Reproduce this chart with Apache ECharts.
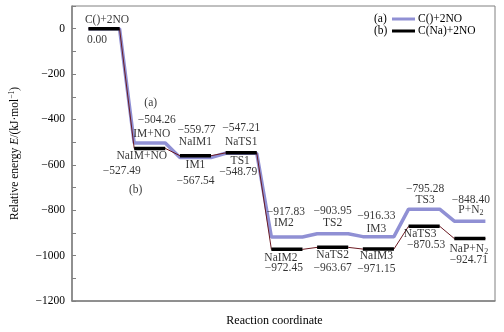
<!DOCTYPE html>
<html>
<head>
<meta charset="utf-8">
<script src="https://cdn.jsdelivr.net/npm/echarts@6/dist/echarts.min.js"></script>
<style>
  html, body { margin: 0; padding: 0; background: #fff; }
  #chart { width: 504px; height: 332px; }
</style>
</head>
<body>
<div id="chart"></div>
<script>
// series names
const seriesNames = ['C()+2NO', 'C(Na)+2NO'];
const seriesTags = ['(a)', '(b)'];

// states and relative energies (kJ/mol)
const statesA = ['C()+2NO', 'IM+NO', 'IM1', 'TS1', 'IM2', 'TS2', 'IM3', 'TS3', 'P+N2'];
const energyA = [0.00, -504.26, -567.54, -548.79, -917.83, -903.95, -916.33, -795.28, -848.40];
const statesB = ['', 'NaIM+NO', 'NaIM1', 'NaTS1', 'NaIM2', 'NaTS2', 'NaIM3', 'NaTS3', 'NaP+N2'];
const energyB = [0.00, -527.49, -559.77, -547.21, -972.45, -963.67, -971.15, -870.53, -924.71];

// y axis
const yMin = -1200;
const yMax = 100;
const yStep = 100;

// label offsets in px (style only)
const offNameA = [[3, -9], [2, -9], [0, 8], [-1, 8], [-3, -14], [0, -11], [-2, -8], [1, -9], [1, -11]];
const offValA = [[-7, 11], [7, -23], [0, 24], [-3, 19], [-1, -25], [0, -23], [-2, -21], [1, -20], [1, -21]];
const offNameB = [null, [-8, 8], [0, -14], [0, -11], [-6, 9], [0, 8], [-2, 7], [-4, 8], [-1, 10]];
const offValB = [null, [-28, 23], [1, -26], [0, -25], [-3, 19], [0, 21], [-2, 20], [2, 19], [-1, 21]];
const offTag = [[1, -40], [-14, 42]];

const FONT = 'Liberation Serif';
const HALF = 0.34;
const COLOR_A = '#9090d4';

const fmtVal = (v) => v.toFixed(2).replace('-', '\u2212');
const fmtName = (s) => s.replace(/N2$/, 'N{sub|2}');

// full path with connectors
function pathOf(energy) {
  const pts = [];
  energy.forEach((e, i) => {
    pts.push([i - HALF, e], [i + HALF, e]);
  });
  return pts;
}

// levels only, broken between states
function levelsOf(energy) {
  const pts = [];
  energy.forEach((e, i) => {
    pts.push([i - HALF, e], [i + HALF, e], [i, null]);
  });
  return pts;
}

const labelData = [];
function addLabel(x, y, text, off) {
  if (!off || text === '') return;
  labelData.push({ value: [x, y], label: { formatter: text, offset: off } });
}
statesA.forEach((s, i) => {
  addLabel(i, energyA[i], fmtName(s), offNameA[i]);
  addLabel(i, energyA[i], fmtVal(energyA[i]), offValA[i]);
});
statesB.forEach((s, i) => {
  addLabel(i, energyB[i], fmtName(s), offNameB[i]);
  addLabel(i, energyB[i], fmtVal(energyB[i]), offValB[i]);
});
addLabel(1, energyA[1], seriesTags[0], offTag[0]);
addLabel(1, energyB[1], seriesTags[1], offTag[1]);

const chart = echarts.init(document.getElementById('chart'));

const option = {
  animation: false,
  textStyle: { fontFamily: FONT },
  grid: {
    left: 61,
    right: 9,
    top: 6,
    bottom: 29,
    show: true,
    borderColor: '#808080',
    borderWidth: 1,
  },
  legend: {
    orient: 'vertical',
    left: 392,
    top: 13,
    padding: 0,
    itemGap: 0,
    itemWidth: 23,
    itemHeight: 3,
    icon: 'rect',
    data: seriesNames,
    textStyle: { fontFamily: FONT, fontSize: 11.5, lineHeight: 12, color: '#000', padding: [0, 0, 0, -2] },
  },
  graphic: [
    {
      type: 'text',
      left: 374,
      top: 13,
      style: {
        text: seriesTags.join('\n'),
        font: '11.5px "Liberation Serif"',
        lineHeight: 12,
        fill: '#000',
      },
    },
  ],
  xAxis: {
    type: 'value',
    min: -0.7,
    max: 8.55,
    name: 'Reaction coordinate',
    nameLocation: 'middle',
    nameGap: 14,
    nameTextStyle: { fontFamily: FONT, fontSize: 12, color: '#000', padding: [0, 18, 0, 0] },
    axisLine: { onZero: false, lineStyle: { color: '#808080', width: 1.5 } },
    axisTick: { show: false },
    axisLabel: { show: false },
    splitLine: { show: false },
  },
  yAxis: {
    type: 'value',
    min: yMin,
    max: yMax,
    interval: yStep,
    name: 'Relative energy {it|E}/(kJ\u00b7mol{sup|\u22121})',
    nameLocation: 'middle',
    nameGap: 51,
    nameTextStyle: {
      fontFamily: FONT,
      fontSize: 11.5,
      color: '#000',
      rich: {
        it: { fontFamily: FONT, fontSize: 11.5, fontStyle: 'italic' },
        sup: { fontFamily: FONT, fontSize: 7.5, verticalAlign: 'top', padding: [0, 0, 5, 0] },
      },
    },
    axisLine: { show: true, onZero: false, lineStyle: { color: '#808080', width: 1.5 } },
    axisTick: { show: true, inside: true, length: 4, lineStyle: { color: '#808080' } },
    axisLabel: {
      fontFamily: FONT,
      fontSize: 11.5,
      color: '#000',
      margin: 7,
      formatter: (v) => (v % 200 === 0 ? String(v).replace('-', '\u2212') : ''),
    },
    splitLine: { show: false },
  },
  series: [
    {
      name: seriesNames[0],
      type: 'line',
      data: pathOf(energyA),
      symbol: 'none',
      lineStyle: { color: COLOR_A, width: 3.5 },
      itemStyle: { color: COLOR_A },
      z: 2,
    },
    {
      name: 'connectorB',
      type: 'line',
      data: pathOf(energyB),
      symbol: 'none',
      lineStyle: { color: '#6b1a22', width: 1 },
      z: 3,
    },
    {
      name: seriesNames[1],
      type: 'line',
      data: levelsOf(energyB),
      symbol: 'none',
      connectNulls: false,
      lineStyle: { color: '#000', width: 3.5 },
      itemStyle: { color: '#000' },
      z: 4,
    },
    {
      name: 'labels',
      type: 'scatter',
      data: labelData,
      symbolSize: 0,
      silent: true,
      itemStyle: { color: 'transparent' },
      label: {
        show: true,
        position: 'inside',
        fontFamily: FONT,
        fontSize: 11.5,
        color: '#000',
        rich: {
          sub: { fontFamily: FONT, fontSize: 8, padding: [6, 0, 0, 0] },
        },
      },
      z: 5,
    },
  ],
};

chart.setOption(option);
</script>
</body>
</html>
